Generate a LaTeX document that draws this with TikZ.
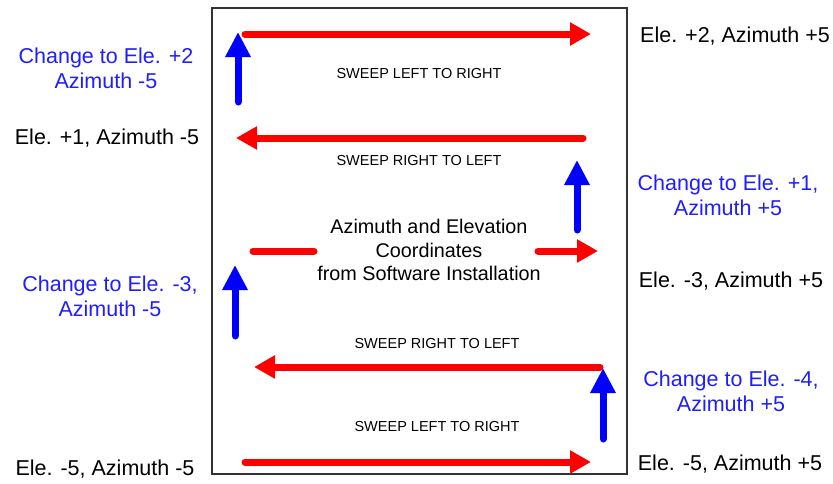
\documentclass[tikz,border=0pt]{standalone}
\usepackage{fontspec}
\setmainfont{Liberation Sans}
\usetikzlibrary{arrows.meta}
\definecolor{arrred}{RGB}{255,0,0}
\definecolor{arrblue}{RGB}{0,0,255}
\definecolor{txtblue}{RGB}{30,30,255}
\tikzset{
  redarrow/.style={draw=arrred, line width=7pt, line cap=round, -{Triangle[length=21pt,width=22pt]}},
  redbar/.style={draw=arrred, line width=7pt, line cap=round},
  bluearrow/.style={draw=arrblue, line width=7pt, line cap=round, -{Triangle[length=25pt,width=24pt]}},
  sidetext/.style={font=\fontsize{21.5}{25}\selectfont, align=center, inner sep=0pt},
  bluetext/.style={sidetext, text=txtblue},
  sweeptext/.style={font=\fontsize{14.5}{17}\selectfont, inner sep=0pt},
  centertext/.style={font=\fontsize{19.8}{23.5}\selectfont, align=center, inner sep=0pt},
  frame/.style={draw=black!80, line width=1.5pt}
}
\begin{document}
\begin{tikzpicture}[x=1pt,y=-1pt]
\useasboundingbox (0,0) rectangle (833,483);
\node[frame, minimum width=415pt, minimum height=466pt, inner sep=0pt, anchor=north west] (box) at (211,7) {};
% red sweep arrows
\coordinate (r1s) at (245,34); \coordinate (r1e) at (591,34);
\coordinate (r2s) at (583,138); \coordinate (r2e) at (236,138);
\coordinate (r3a) at (253,251); \coordinate (r3b) at (314,251);
\coordinate (r3s) at (538,251); \coordinate (r3e) at (598,251);
\coordinate (r4s) at (600,367); \coordinate (r4e) at (254,367);
\coordinate (r5s) at (245,462); \coordinate (r5e) at (591,462);
\draw[redarrow] (r1s) -- (r1e);
\draw[redarrow] (r2s) -- (r2e);
\draw[redbar] (r3a) -- (r3b);
\draw[redarrow] (r3s) -- (r3e);
\draw[redarrow] (r4s) -- (r4e);
\draw[redarrow] (r5s) -- (r5e);
% blue arrows
\coordinate (b1s) at (238,102); \coordinate (b1e) at (238,32);
\coordinate (b2s) at (577,230); \coordinate (b2e) at (577,160);
\coordinate (b3s) at (235,336); \coordinate (b3e) at (235,265);
\coordinate (b4s) at (603,439); \coordinate (b4e) at (603,368);
\draw[bluearrow] (b1s) -- (b1e);
\draw[bluearrow] (b2s) -- (b2e);
\draw[bluearrow] (b3s) -- (b3e);
\draw[bluearrow] (b4s) -- (b4e);
% sweep labels
\node[sweeptext] (s1) at (419,74) {SWEEP LEFT TO RIGHT};
\node[sweeptext] (s2) at (419,161) {SWEEP RIGHT TO LEFT};
\node[sweeptext] (s3) at (437,344) {SWEEP RIGHT TO LEFT};
\node[sweeptext] (s4) at (437,426) {SWEEP LEFT TO RIGHT};
\node[centertext] (c) at (429,250) {Azimuth and Elevation\\Coordinates\\from Software Installation};
% left labels
\node[bluetext] (l1) at (106,68) {Change to Ele. +2\\Azimuth -5};
\node[sidetext] (l2) at (107,138) {Ele. +1, Azimuth -5};
\node[bluetext] (l3) at (110,296) {Change to Ele. -3,\\Azimuth -5};
\node[sidetext] (l4) at (105,469) {Ele. -5, Azimuth -5};
% right labels
\node[sidetext] (r1) at (735,36) {Ele. +2, Azimuth +5};
\node[bluetext] (r2) at (728,195) {Change to Ele. +1,\\Azimuth +5};
\node[sidetext] (r3) at (731,281) {Ele. -3, Azimuth +5};
\node[bluetext] (r4) at (731,391) {Change to Ele. -4,\\Azimuth +5};
\node[sidetext] (r5) at (730,464) {Ele. -5, Azimuth +5};
\end{tikzpicture}
\end{document}
